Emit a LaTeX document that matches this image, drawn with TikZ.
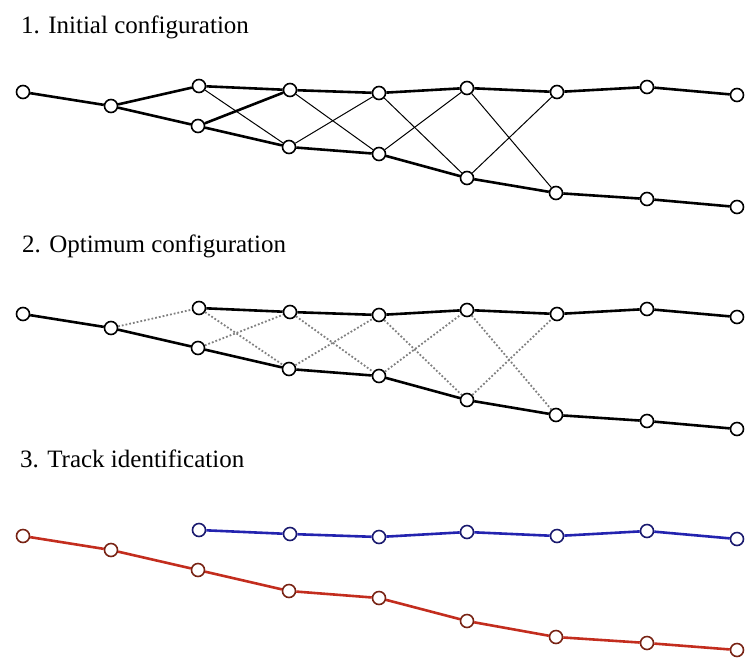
\documentclass[tikz,border=0pt]{standalone}
\usepackage{fontspec}
\setmainfont{Liberation Serif}
\usepackage{tikz}
\usetikzlibrary{positioning}
\definecolor{trackred}{RGB}{195,45,30}
\definecolor{trackblue}{RGB}{35,35,175}
\definecolor{rededge}{RGB}{120,35,20}
\definecolor{blueedge}{RGB}{25,25,110}

\begin{document}
\begin{tikzpicture}[
        x=1pt, y=-1pt,
        hit/.style={circle, draw=#1, fill=white, line width=1.6pt,
            inner sep=0pt, minimum size=13pt},
        hit/.default=black,
        seg/.style={line width=2.6pt},
        link/.style={line width=1pt},
        weak/.style={gray, line width=1.8pt, dotted},
        title/.style={anchor=base west, inner sep=0pt,
            font=\fontsize{25}{29}\selectfont}
    ]
        \useasboundingbox (0,0) rectangle (746,657);

        % Titles
        \node[title] (title1) at (21,33) {1. Initial configuration};
        \node[title] (title2) at (22,252) {2. Optimum configuration};
        \node[title] (title3) at (20,467) {3. Track identification};

        % Hits of panels 1 and 2
        \foreach \p/\dy in {1/0, 2/222} {
            \foreach \n/\x/\y in {a0/23/92, a1/111/106,
                t2/199/86, t3/290/90, t4/379/93, t5/467/88, t6/557/92, t7/647/87, t8/737/95,
                b2/198/126, b3/289/147, b4/379/154, b5/467/178, b6/556/193, b7/647/199, b8/737/207}
                \node[hit] (\p\n) at (\x,\y+\dy) {};
        }

        % Connections, panel 1
        \draw[seg] (1a0) -- (1a1) -- (1t2) -- (1t3) -- (1t4) -- (1t5) -- (1t6) -- (1t7) -- (1t8);
        \draw[seg] (1a1) -- (1b2) -- (1b3) -- (1b4) -- (1b5) -- (1b6) -- (1b7) -- (1b8);
        \draw[seg] (1b2) -- (1t3);
        \draw[link] (1t2) -- (1b3);
        \foreach \i/\j in {3/4, 4/5, 5/6} {
            \draw[link] (1t\i) -- (1b\j);
            \draw[link] (1b\i) -- (1t\j);
        }

        % Connections, panel 2
        \draw[seg] (2a0) -- (2a1) -- (2b2) -- (2b3) -- (2b4) -- (2b5) -- (2b6) -- (2b7) -- (2b8);
        \draw[seg] (2t2) -- (2t3) -- (2t4) -- (2t5) -- (2t6) -- (2t7) -- (2t8);
        \draw[weak] (2a1) -- (2t2);
        \foreach \i/\j in {2/3, 3/4, 4/5, 5/6} {
            \draw[weak] (2t\i) -- (2b\j);
            \draw[weak] (2b\i) -- (2t\j);
        }

        % Panel 3: identified tracks
        \foreach \n/\x/\y in {a0/23/536, a1/111/550, b2/198/570, b3/289/591,
            b4/379/598, b5/467/621, b6/556/637, b7/647/643, b8/737/650}
            \node[hit=rededge] (3\n) at (\x,\y) {};
        \foreach \n/\x/\y in {t2/199/530, t3/290/534, t4/379/537, t5/467/532,
            t6/557/536, t7/647/531, t8/737/539}
            \node[hit=blueedge] (3\n) at (\x,\y) {};
        \draw[seg, trackred] (3a0) -- (3a1) -- (3b2) -- (3b3) -- (3b4) -- (3b5) -- (3b6) -- (3b7) -- (3b8);
        \draw[seg, trackblue] (3t2) -- (3t3) -- (3t4) -- (3t5) -- (3t6) -- (3t7) -- (3t8);
    \end{tikzpicture}
\end{document}
